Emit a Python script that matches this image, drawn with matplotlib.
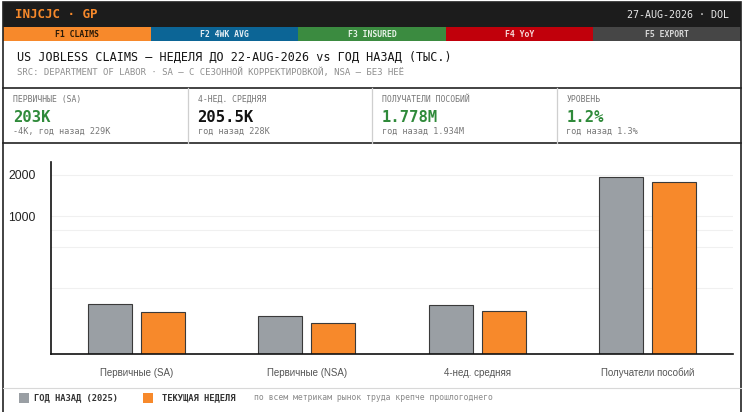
import numpy as np
import matplotlib
matplotlib.use("Agg")
import matplotlib.pyplot as plt
from matplotlib.patches import Rectangle

W, H = 743, 412

# data (thousands)
categories = ["Первичные (SA)", "Первичные (NSA)", "4-нед. средняя", "Получатели пособий"]
prior_year = [229, 190, 228, 1934]
current_week = [203, 168, 205.5, 1778]
grid_vals = [300, 600, 800, 1000, 2000]
tick_vals = [1000, 2000]

tabs = ["F1 CLAIMS", "F2 4WK AVG", "F3 INSURED", "F4 YoY", "F5 EXPORT"]
tab_colors = ["#f7892b", "#0c6596", "#3b8b40", "#c1000b", "#464646"]
tab_text = ["#2a1a08", "#e6eef4", "#e8f2e8", "#f6d8d8", "#d8d8d8"]

card_labels = ["ПЕРВИЧНЫЕ (SA)", "4-НЕД. СРЕДНЯЯ", "ПОЛУЧАТЕЛИ ПОСОБИЙ", "УРОВЕНЬ"]
card_values = ["203K", "205.5K", "1.778M", "1.2%"]
card_subs = ["-4K, год назад 229K", "год назад 228K", "год назад 1.934M", "год назад 1.3%"]
card_val_colors = ["#2f8a3a", "#111111", "#2f8a3a", "#2f8a3a"]

GRAY = "#9a9fa4"
ORANGE = "#f7892b"
MONO = "DejaVu Sans Mono"
SANS = "Liberation Sans"


def fx(x):
    return x / W


def fy(y):
    return 1 - y / H


def rect(x0, y0, x1, y1, **kw):
    fig.add_artist(Rectangle((fx(x0), fy(y1)), fx(x1) - fx(x0), fy(y0) - fy(y1),
                             transform=fig.transFigure, **kw))


def hline(y, x0, x1, **kw):
    fig.add_artist(plt.Line2D([fx(x0), fx(x1)], [fy(y), fy(y)], transform=fig.transFigure, **kw))


def txt(x, y, s, **kw):
    fig.text(fx(x), fy(y), s, va="center", **kw)


fig = plt.figure(figsize=(W / 100, H / 100), dpi=100)
fig.patch.set_facecolor("white")

# header bar
rect(3, 2, 741, 27, color="#1c1c1c", lw=0)
txt(15, 15, "INJCJC · GP", family=MONO, weight="bold", size=9, color="#f7892b")
txt(729, 15, "27-AUG-2026 · DOL", family=MONO, size=7.2, color="#e8e8e8", ha="right")

# function key tabs
tab_w = (741 - 3) / len(tabs)
for i, (t, c, tc) in enumerate(zip(tabs, tab_colors, tab_text)):
    x0 = 3 + i * tab_w
    rect(x0, 27, x0 + tab_w, 41, color=c, lw=0)
    txt(x0 + tab_w / 2, 34.3, t, family=MONO, weight="bold", size=5.9, color=tc, ha="center")

# title
txt(17, 57, "US JOBLESS CLAIMS — НЕДЕЛЯ ДО 22-AUG-2026 vs ГОД НАЗАД (ТЫС.)",
    family=MONO, size=8.5, color="#151515")
txt(17, 72, "SRC: DEPARTMENT OF LABOR · SA — С СЕЗОННОЙ КОРРЕКТИРОВКОЙ, NSA — БЕЗ НЕЁ",
    family=MONO, size=6.5, color="#8f8f8f")

# stat cards
hline(87.5, 3, 741, color="#222222", lw=1.2)
hline(143, 3, 741, color="#222222", lw=1.2)
card_w = (741 - 3) / 4
for i in range(4):
    x0 = 3 + i * card_w
    if i > 0:
        fig.add_artist(plt.Line2D([fx(x0), fx(x0)], [fy(88), fy(142.5)], transform=fig.transFigure,
                                  color="#cfcfcf", lw=0.9))
    txt(x0 + 10, 99.5, card_labels[i], family=MONO, size=5.9, color="#777777")
    txt(x0 + 10, 117, card_values[i], family=MONO, weight="bold", size=11.2, color=card_val_colors[i])
    txt(x0 + 10, 131, card_subs[i], family=MONO, size=6.1, color="#777777")

# chart
ax = fig.add_axes([fx(51), fy(354), fx(733) - fx(51), fy(162) - fy(354)])
ax.set_yscale("log")
x = np.arange(len(categories))
bw = 0.258
off = 0.155
for g in grid_vals:
    ax.axhline(g, color="#f0f0f0", lw=0.8, zorder=0)
ax.bar(x - off, prior_year, bw, color=GRAY, edgecolor="#3a3a3a", lw=0.8, zorder=2)
ax.bar(x + off, current_week, bw, color=ORANGE, edgecolor="#3a3a3a", lw=0.8, zorder=2)
ax.set_ylim(100, 2480)
ax.set_xlim(-0.5, len(categories) - 0.5)
ax.set_yticks(tick_vals)
ax.set_yticklabels([str(v) for v in tick_vals])
ax.yaxis.set_minor_locator(matplotlib.ticker.NullLocator())
ax.set_xticks(x)
ax.set_xticklabels(categories)
ax.tick_params(axis="y", length=0, pad=11, labelsize=8.7, labelcolor="#222222")
ax.tick_params(axis="x", length=0, pad=10, labelsize=7, labelcolor="#555555")
for lab in ax.get_xticklabels() + ax.get_yticklabels():
    lab.set_family(SANS)
for s in ["top", "right"]:
    ax.spines[s].set_visible(False)
for s in ["left", "bottom"]:
    ax.spines[s].set_color("#111111")
    ax.spines[s].set_linewidth(1.2)

# legend row
hline(387.5, 3, 741, color="#d8d8d8", lw=0.8)
rect(19, 393, 29, 403, color=GRAY, lw=0)
txt(34, 398, "ГОД НАЗАД (2025)", family=MONO, weight="bold", size=6.3, color="#333333")
rect(143, 393, 153, 403, color=ORANGE, lw=0)
txt(162, 398, "ТЕКУЩАЯ НЕДЕЛЯ", family=MONO, weight="bold", size=6.3, color="#333333")
txt(254, 398, "по всем метрикам рынок труда крепче прошлогоднего", family=MONO, size=5.9,
    color="#8a8a8a")

# outer frame (open at the bottom edge of the picture)
rect(3, 2, 741, 420, fill=False, ec="#222222", lw=1.2)

fig.savefig("out.png", dpi=100, facecolor="white")
